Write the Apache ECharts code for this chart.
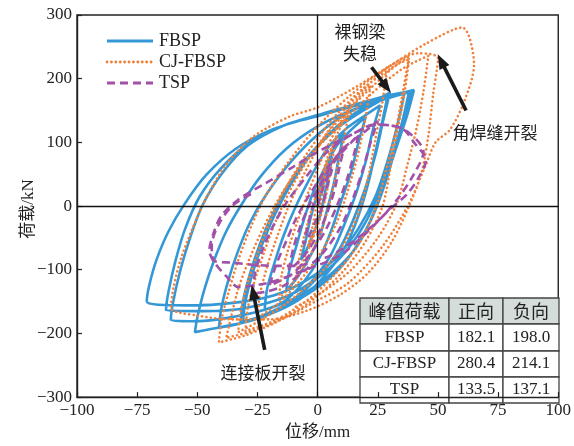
<!DOCTYPE html>
<html>
<head>
<meta charset="utf-8">
<script src="https://cdn.jsdelivr.net/npm/echarts@6/dist/echarts.min.js"></script>
<style>
  html, body { margin: 0; padding: 0; background: #fff; }
  #chart { width: 574px; height: 446px; }
</style>
</head>
<body>
<div id="chart"></div>
<script>
// Load–displacement hysteresis loops, one cycle per array: [displacement mm, load kN]
const fbspCycles = [
  [[0,0],[2,30],[4,55],[6,78]],
  [[5,55],[3,20],[1,-15],[-2,-45],[-5,-72],[-7,-85],[-5,-55],[-3,-20],[0,20],[3,55],[6,85],[9,105],[11,116]],
  [[9,80],[7,40],[4,-5],[1,-45],[-4,-85],[-9,-115],[-13,-132],[-12,-105],[-9,-65],[-6,-25],[-2,20],[3,60],[8,95],[14,120],[20,140]],
  [[17,100],[14,55],[10,10],[6,-35],[1,-80],[-6,-120],[-14,-150],[-22,-163],[-21,-130],[-18,-90],[-14,-45],[-9,0],[-3,45],[4,90],[12,122],[20,143],[26,158]],
  [[23,120],[20,70],[16,20],[11,-30],[5,-80],[-4,-125],[-14,-158],[-24,-175],[-31,-181],[-30,-150],[-27,-105],[-23,-60],[-18,-15],[-11,35],[-2,85],[8,125],[18,152],[30,178]],
  [[27,130],[24,80],[20,30],[15,-20],[9,-68],[0,-112],[-11,-150],[-23,-172],[-32,-183],[-31,-150],[-28,-105],[-24,-60],[-19,-15],[-12,35],[-3,82],[8,122],[19,150],[29,172]],
  [[27,135],[24,85],[21,35],[17,-15],[12,-60],[4,-105],[-7,-145],[-20,-170],[-34,-186],[-41,-191],[-40,-160],[-37,-115],[-33,-70],[-28,-25],[-21,20],[-11,70],[0,112],[12,145],[26,168],[40,182.1]],
  [[37,140],[33,95],[29,50],[25,5],[19,-45],[11,-90],[1,-125],[-12,-155],[-26,-178],[-40,-190],[-51,-198],[-50,-175],[-47,-130],[-43,-85],[-38,-40],[-32,0],[-24,45],[-13,90],[0,125],[14,150],[28,168],[39,180]],
  [[36,135],[32,85],[28,35],[23,-15],[16,-65],[6,-105],[-7,-140],[-22,-163],[-38,-176],[-52,-181],[-61,-179],[-60,-150],[-57,-100],[-53,-50],[-48,0],[-40,50],[-29,95],[-15,125],[0,143],[16,160],[31,175],[38,180]],
  [[35,130],[31,80],[26,25],[20,-25],[12,-70],[1,-110],[-13,-142],[-30,-160],[-47,-165],[-63,-164],[-62,-135],[-59,-85],[-55,-35],[-49,15],[-40,60],[-28,100],[-13,128],[0,141],[16,158],[30,172],[36,176]],
  [[33,125],[29,70],[24,15],[17,-35],[8,-80],[-4,-115],[-18,-140],[-35,-152],[-54,-156],[-66,-155],[-71,-150],[-70,-125],[-67,-85],[-62,-40],[-55,5],[-46,50],[-34,90],[-19,120],[-2,140]]
];

const cjfbspCycles = [
  [[0,0],[2,40],[4,70]],
  [[3,40],[1,0],[-1,-35],[-4,-65],[-2,-30],[0,10],[3,55],[6,90],[8,110]],
  [[6,70],[4,25],[1,-20],[-3,-60],[-7,-95],[-9,-110],[-7,-70],[-4,-25],[0,25],[4,75],[9,120],[13,150]],
  [[11,105],[8,55],[5,5],[1,-45],[-5,-90],[-11,-125],[-16,-145],[-15,-110],[-12,-65],[-8,-20],[-3,30],[3,85],[10,135],[17,170],[22,190]],
  [[20,140],[17,85],[13,30],[8,-25],[1,-75],[-8,-120],[-17,-155],[-25,-175],[-24,-140],[-21,-95],[-17,-50],[-12,0],[-5,55],[3,110],[12,155],[21,190],[29,218]],
  [[27,165],[24,105],[21,45],[17,-10],[10,-65],[0,-110],[-12,-150],[-24,-180],[-33,-198],[-32,-165],[-29,-120],[-25,-75],[-20,-25],[-13,30],[-4,85],[7,140],[19,185],[30,215],[38,235]],
  [[35,170],[32,110],[28,50],[24,-5],[17,-60],[7,-108],[-5,-150],[-18,-180],[-30,-196],[-29,-160],[-26,-115],[-22,-70],[-17,-20],[-10,35],[-1,90],[10,140],[22,185],[33,222],[38,230]],
  [[36,175],[33,115],[30,55],[27,0],[20,-55],[10,-105],[-3,-150],[-17,-182],[-30,-203],[-41,-214.1],[-40,-180],[-37,-135],[-33,-85],[-28,-35],[-21,20],[-11,75],[0,125],[13,172],[28,215],[42,240],[50,232]],
  [[48,175],[46,110],[43,50],[38,0],[31,-55],[21,-105],[9,-140],[-5,-165],[-20,-178],[-35,-178],[-50,-172],[-61,-160],[-60,-130],[-57,-85],[-52,-35],[-46,15],[-38,65],[-27,108],[-12,140],[0,155],[15,185],[30,220],[45,255],[60,280.4],[65,222]],
  [[61,165],[55,120],[49,100],[45,65],[38,4],[27,-63],[13,-120],[1,-146],[-14,-176],[-28,-197],[-38,-207],[-36,-175],[-33,-130],[-28,-80],[-22,-30],[-14,25],[-3,80],[10,130],[22,175],[35,215],[46,236]],
  [[44,180],[41,120],[37,60],[33,5],[25,-50],[14,-100],[2,-135],[-10,-160]]
];

const tspCycles = [
  [[0,0],[2,25],[4,45],[6,58]],
  [[4,30],[2,0],[-1,-25],[-4,-50],[-6,-60],[-4,-30],[-2,0],[1,30],[5,60],[9,85],[11,92]],
  [[9,60],[7,25],[4,-10],[0,-45],[-5,-75],[-10,-95],[-12,-100],[-10,-65],[-7,-30],[-3,5],[2,40],[8,75],[14,100],[17,112]],
  [[15,80],[12,40],[8,0],[3,-40],[-3,-75],[-10,-105],[-17,-120],[-20,-125],[-17,-90],[-13,-55],[-9,-20],[-3,20],[4,60],[12,95],[20,118],[25,133.5]],
  [[22,100],[19,60],[15,15],[10,-30],[3,-70],[-5,-100],[-14,-125],[-22,-135],[-27,-137.1],[-26,-105],[-23,-70],[-19,-35],[-13,5],[-5,45],[4,85],[14,112],[24,128],[35,122]],
  [[40,100],[45,72],[42,45],[37,18],[30,-5],[20,-43],[9,-78],[-5,-100],[-20,-120],[-33,-127],[-38,-110],[-43,-88],[-45,-70],[-43,-40],[-40,-15],[-33,10],[-22,35],[-10,62],[0,85],[13,110],[25,128],[36,120],[44,85]],
  [[40,50],[34,15],[26,-20],[15,-55],[4,-80],[-10,-94],[-24,-93],[-35,-89],[-43,-86],[-44,-62],[-41,-28],[-35,2],[-26,22]]
];

const seriesNames = ['FBSP', 'CJ-FBSP', 'TSP'];
const seriesColors = ['#3498d6', '#f0813a', '#a251a8'];

const xTicks = [-100, -75, -50, -25, 0, 25, 50, 75, 100];
const yTicks = [-300, -200, -100, 0, 100, 200, 300];

// Peak-load table
const tableHeader = ['峰值荷载', '正向', '负向'];
const tableNames = ['FBSP', 'CJ-FBSP', 'TSP'];
const peakPositive = ['182.1', '280.4', '133.5'];
const peakNegative = ['198.0', '214.1', '137.1'];

// Callout arrows: tail and head, in data units
const callouts = [
  { tail: [22.4, 218], head: [28.6, 187] },
  { tail: [61.7, 150], head: [51.3, 228] },
  { tail: [-22, -226], head: [-26.8, -135.5] }
];

const SERIF = '"Liberation Serif", "Times New Roman", serif';
const CJK = '"Noto Sans CJK SC", sans-serif';
const MIXED = '"Liberation Serif", "Noto Sans CJK SC", serif';

const chart = echarts.init(document.getElementById('chart'), null, { renderer: 'canvas' });

const minus = v => String(v).replace('-', '\u2212');

const dashStyles = [
  { type: 'solid' },
  { type: [0.1, 4.3], cap: 'round' },
  { type: [8, 5] }
];
// same dash patterns for the legend samples
const legendDash = [null, [0.1, 4.3], [8, 5]];

const lineSeries = [fbspCycles, cjfbspCycles, tspCycles].map((cycles, i) => ({
  name: seriesNames[i],
  type: 'line',
  data: cycles.flat(),
  symbol: 'none',
  smooth: 0.3,
  z: 2,
  lineStyle: Object.assign({ color: seriesColors[i], width: 2.6 }, dashStyles[i]),
  itemStyle: { color: seriesColors[i] },
  animation: false
}));

// Zero lines and callout arrows
const annot = {
  name: 'annot',
  type: 'line',
  data: [],
  z: 5,
  silent: true,
  markLine: {
    silent: true,
    animation: false,
    symbol: ['none', 'none'],
    label: { show: false },
    data: [
      { xAxis: 0, lineStyle: { color: '#111', width: 1.3, type: 'solid' } },
      { yAxis: 0, lineStyle: { color: '#111', width: 1.3, type: 'solid' } }
    ].concat(callouts.map(c => [
      { coord: c.tail, symbol: 'none', lineStyle: { color: '#1a1a1a', width: 3.6, type: 'solid' } },
      { coord: c.head, symbol: 'triangle', symbolSize: [11, 15] }
    ]))
  }
};

const cellX = [360, 449, 503, 559];
const cellY = [298, 324, 351, 377, 403];
const tableEls = [];
for (let r = 0; r < 4; r++) {
  for (let c = 0; c < 3; c++) {
    tableEls.push({
      type: 'rect', z: 1,
      shape: { x: cellX[c], y: cellY[r], width: cellX[c + 1] - cellX[c], height: cellY[r + 1] - cellY[r] },
      style: { fill: r === 0 ? '#d4ddd9' : '#fff', stroke: '#444', lineWidth: 1.3 }
    });
    const txt = r === 0 ? tableHeader[c] : [tableNames, peakPositive, peakNegative][c][r - 1];
    tableEls.push({
      type: 'text', z: 1,
      x: (cellX[c] + cellX[c + 1]) / 2, y: (cellY[r] + cellY[r + 1]) / 2,
      style: { text: txt, align: 'center', verticalAlign: 'middle', fill: '#222',
               font: (r === 0 ? '18px ' + CJK : '17px ' + SERIF) }
    });
  }
}

const legendEls = [];
seriesNames.forEach((name, i) => {
  const y = 41 + i * 21;
  legendEls.push({
    type: 'line', z: 6,
    shape: { x1: 107, y1: y, x2: 153, y2: y },
    style: { stroke: seriesColors[i], lineWidth: 2.8, lineDash: legendDash[i], lineCap: i === 1 ? 'round' : 'butt' }
  });
  legendEls.push({
    type: 'text', z: 6, x: 159, y: y,
    style: { text: name, align: 'left', verticalAlign: 'middle', fill: '#222', font: '18px ' + SERIF }
  });
});

const labelEls = [
  { type: 'text', z: 6, x: 360, y: 32, style: { text: '裸钢梁', align: 'center', verticalAlign: 'middle', fill: '#222', font: '17px ' + CJK } },
  { type: 'text', z: 6, x: 360, y: 54, style: { text: '失稳', align: 'center', verticalAlign: 'middle', fill: '#222', font: '17px ' + CJK } },
  { type: 'text', z: 6, x: 495, y: 133, style: { text: '角焊缝开裂', align: 'center', verticalAlign: 'middle', fill: '#222', font: '17px ' + CJK } },
  { type: 'text', z: 6, x: 263, y: 373, style: { text: '连接板开裂', align: 'center', verticalAlign: 'middle', fill: '#222', font: '17px ' + CJK } },
  // y-axis title
  { type: 'text', z: 6, x: 29, y: 209, rotation: Math.PI / 2,
    style: { text: '荷载/kN', align: 'center', verticalAlign: 'middle', fill: '#222', font: '17px ' + MIXED } }
];

chart.setOption({
  animation: false,
  backgroundColor: '#fff',
  grid: { left: 77, right: 15, top: 15, bottom: 43, show: true, borderColor: '#222', borderWidth: 1.4, backgroundColor: 'transparent' },
  xAxis: {
    type: 'value', min: xTicks[0], max: xTicks[xTicks.length - 1], interval: 25, z: 4,
    name: '位移/mm', nameLocation: 'middle', nameGap: 25,
    nameTextStyle: { fontFamily: MIXED, fontSize: 17, color: '#222' },
    axisLine: { show: true, onZero: false, lineStyle: { color: '#222', width: 1.4 } },
    axisTick: { show: true, inside: true, length: 5, lineStyle: { color: '#222', width: 1.2 } },
    axisLabel: { fontFamily: SERIF, fontSize: 17, color: '#222', margin: 5, formatter: minus },
    splitLine: { show: false }
  },
  yAxis: {
    type: 'value', min: yTicks[0], max: yTicks[yTicks.length - 1], interval: 100, z: 4,
    axisLine: { show: true, onZero: false, lineStyle: { color: '#222', width: 1.4 } },
    axisTick: { show: true, inside: true, length: 5, lineStyle: { color: '#222', width: 1.2 } },
    axisLabel: { fontFamily: SERIF, fontSize: 17, color: '#222', margin: 5, formatter: minus },
    splitLine: { show: false }
  },
  graphic: { elements: tableEls.concat(legendEls, labelEls) },
  series: lineSeries.concat([annot])
});
</script>
</body>
</html>
